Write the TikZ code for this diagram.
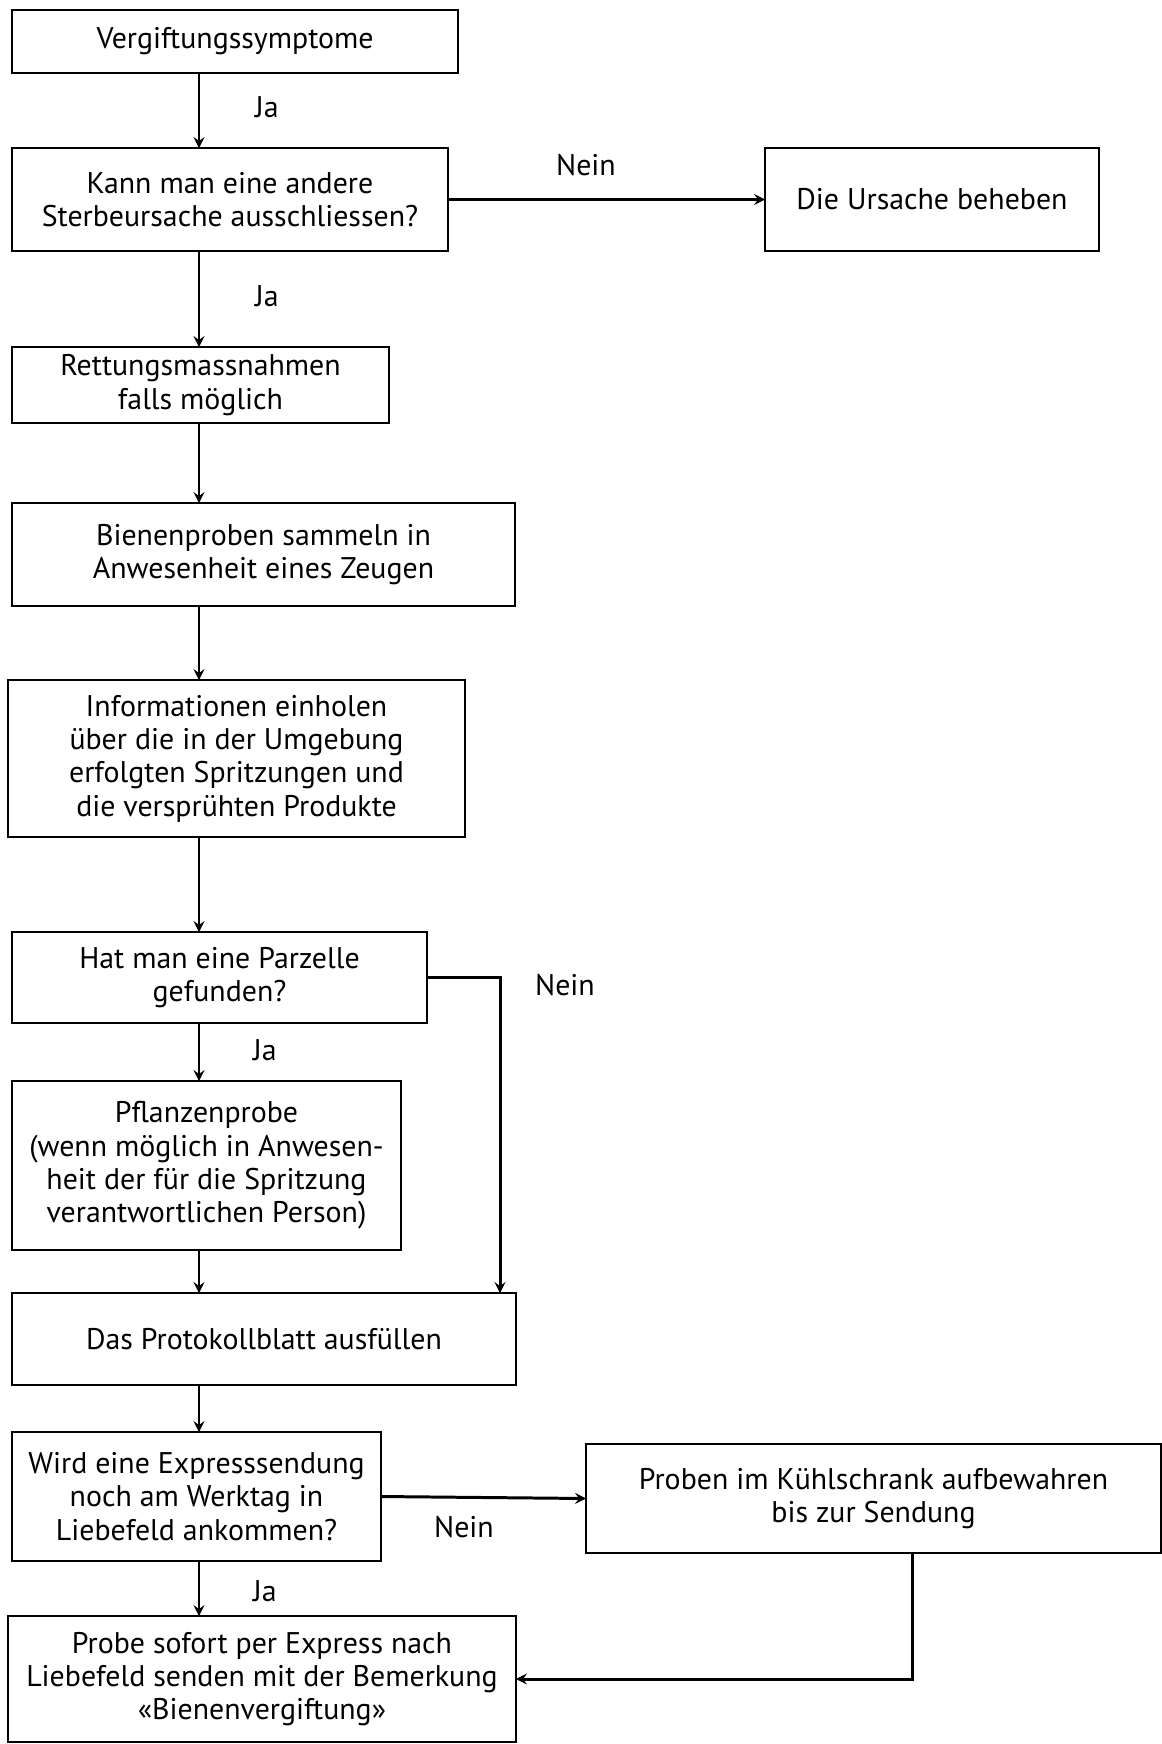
\documentclass[tikz,border=0pt]{standalone}
\usepackage{fontspec}
\setmainfont{PT Sans}
\usetikzlibrary{arrows}

\tikzset{
  box/.style={draw,line width=0.8pt,align=center,inner sep=0pt,outer sep=0pt,
    font=\fontsize{17}{19}\selectfont},
  pfeil/.style={line width=1.7pt,-stealth},
  marke/.style={font=\fontsize{17}{19}\selectfont}
}

\begin{document}
\begin{tikzpicture}[x=0.02cm,y=-0.02cm]
\useasboundingbox (0,0) rectangle (1162,1744);

% Kaesten
\node[box,minimum width=8.92cm,minimum height=1.26cm] (symptome) at (235,41.5) {Vergiftungssymptome};
\node[box,minimum width=8.72cm,minimum height=2.06cm] (ursache) at (230,199.5) {Kann man eine andere\\Sterbeursache ausschliessen?};
\node[box,minimum width=6.68cm,minimum height=2.06cm] (beheben) at (932,199.5) {Die Ursache beheben};
\node[box,minimum width=7.54cm,minimum height=1.52cm] (rettung) at (200.5,385) {Rettungsmassnahmen\\falls möglich};
\node[box,minimum width=10.06cm,minimum height=2.06cm] (bienenproben) at (263.5,554.5) {Bienenproben sammeln in\\Anwesenheit eines Zeugen};
\node[box,minimum width=9.14cm,minimum height=3.14cm] (info) at (236.5,758.5) {Informationen einholen\\über die in der Umgebung\\erfolgten Spritzungen und\\die versprühten Produkte};
\node[box,minimum width=8.3cm,minimum height=1.82cm] (parzelle) at (219.5,977.5) {Hat man eine Parzelle\\gefunden?};
\node[box,minimum width=7.78cm,minimum height=3.38cm] (pflanzenprobe) at (206.5,1165.5) {Pflanzenprobe\\(wenn möglich in Anwesen-\\heit der für die Spritzung\\verantwortlichen Person)};
\node[box,minimum width=10.08cm,minimum height=1.84cm] (protokoll) at (264,1339) {Das Protokollblatt ausfüllen};
\node[box,minimum width=7.38cm,minimum height=2.58cm] (express) at (196.5,1496.5) {Wird eine Expresssendung\\noch am Werktag in\\Liebefeld ankommen?};
\node[box,minimum width=11.5cm,minimum height=2.18cm] (kuehlschrank) at (873.5,1498.5) {Proben im Kühlschrank aufbewahren\\bis zur Sendung};
\node[box,minimum width=10.16cm,minimum height=2.52cm] (senden) at (262,1679) {Probe sofort per Express nach\\Liebefeld senden mit der Bemerkung\\«Bienenvergiftung»};

% Spalten fuer die Pfeile
\coordinate (spalte) at (199,0);
\coordinate (neinspalte) at (500,0);
\coordinate (rueck) at (912,0);

% Pfeile
\draw[pfeil] (symptome.south -| spalte) -- (ursache.north -| spalte);
\draw[pfeil] (ursache.south -| spalte) -- (rettung.north -| spalte);
\draw[pfeil] (rettung.south -| spalte) -- (bienenproben.north -| spalte);
\draw[pfeil] (bienenproben.south -| spalte) -- (info.north -| spalte);
\draw[pfeil] (info.south -| spalte) -- (parzelle.north -| spalte);
\draw[pfeil] (parzelle.south -| spalte) -- (pflanzenprobe.north -| spalte);
\draw[pfeil] (pflanzenprobe.south -| spalte) -- (protokoll.north -| spalte);
\draw[pfeil] (protokoll.south -| spalte) -- (express.north -| spalte);
\draw[pfeil] (express.south -| spalte) -- (senden.north -| spalte);
\draw[pfeil] (ursache.east) -- (beheben.west);
\draw[pfeil] (parzelle.east) -| (protokoll.north -| neinspalte);
\draw[pfeil] (express.east) -- (kuehlschrank.west);
\draw[pfeil] (kuehlschrank.south -| rueck) |- (senden.east);

% Beschriftungen
\node[marke] (ja1) at (267,107) {Ja};
\node[marke] (ja2) at (267,296) {Ja};
\node[marke] (ja3) at (265,1050) {Ja};
\node[marke] (ja4) at (265,1591) {Ja};
\node[marke] (nein1) at (586,165) {Nein};
\node[marke] (nein2) at (565,985) {Nein};
\node[marke] (nein3) at (464,1527) {Nein};
\end{tikzpicture}
\end{document}
